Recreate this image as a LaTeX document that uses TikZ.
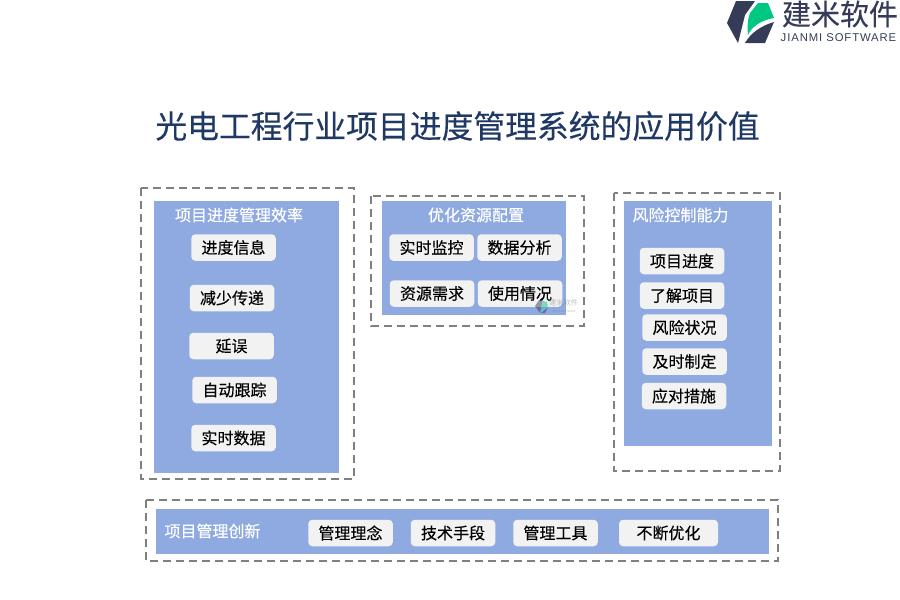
\documentclass[tikz,border=0pt]{standalone}
\usepackage{fontspec}
\setmainfont{Noto Sans CJK SC}
\newfontfamily\heavyfont[FakeBold=0.25]{Noto Sans CJK SC}
\newfontfamily\latinfont[LetterSpace=8]{Liberation Sans}
\usepackage{tikz}
\usetikzlibrary{positioning, calc}
\definecolor{PanelBlue}{RGB}{142, 170, 224}
\definecolor{ChipGray}{RGB}{242, 242, 242}
\definecolor{TitleBlue}{RGB}{31, 56, 100}
\definecolor{LogoDark}{RGB}{52, 60, 88}
\definecolor{LogoGreen}{RGB}{0, 200, 130}
\definecolor{FrameGray}{RGB}{128, 128, 128}
\tikzset{
  framebox/.style={draw=FrameGray, line width=2.2pt, dash pattern=on 8pt off 5pt},
  panelbox/.style={fill=PanelBlue},
  chip/.style={fill=ChipGray, rounded corners=4pt, minimum width=84.5pt, minimum height=26.5pt,
    inner sep=0pt, font=\heavyfont\fontsize{16}{18}\selectfont, text=black},
  paneltitle/.style={text=white, inner sep=0pt, font=\heavyfont\fontsize{16}{18}\selectfont},
  faintmark/.style={opacity=0.5}
}
\begin{document}
\begin{tikzpicture}[x=1pt, y=-1pt]
    \useasboundingbox (0, 0) rectangle (900, 600);

    % Logo
    \fill[LogoDark] (736, 1) -- (755, 1) -- (745, 15) -- (738, 43) -- (727, 23) -- cycle;
    \fill[LogoGreen] (758, 3) -- (768, 3) -- (774, 18) .. controls (762, 20) and (752, 26) .. (748, 35) .. controls (747, 26) and (748, 18) .. (750, 13) -- cycle;
    \fill[LogoDark] (774, 22) -- (765, 43) -- (745, 43) .. controls (750, 34) and (760, 26) .. (774, 22) -- cycle;
    \node[LogoDark, inner sep=0pt, font=\heavyfont\fontsize{29}{31}\selectfont] (logoname) at (840, 14) {建米软件};
    \node[LogoDark, inner sep=0pt, font=\latinfont\fontsize{11.3}{13}\selectfont] (logosub) at (838.5, 37.5) {JIANMI SOFTWARE};

    % Title
    \node[TitleBlue, inner sep=0pt, font=\heavyfont\fontsize{31.8}{36}\selectfont] (title) at (457.5, 126) {光电工程行业项目进度管理系统的应用价值};

    % Dashed frames
    \draw[framebox] (141, 188) rectangle (354, 479);
    \draw[framebox] (371, 196) rectangle (584, 326);
    \draw[framebox] (614, 193) rectangle (780, 471);
    \draw[framebox] (146, 500) rectangle (778, 561);

    % Blue panels
    \fill[panelbox] (154, 201) rectangle (339, 473);
    \fill[panelbox] (382, 201) rectangle (566, 315);
    \fill[panelbox] (624, 201) rectangle (772, 446);
    \fill[panelbox] (156, 509) rectangle (769, 554);

    % Panel titles
    \node[paneltitle] (efficiency) at (239, 215) {项目进度管理效率};
    \node[paneltitle] (resources) at (476, 215) {优化资源配置};
    \node[paneltitle] (risk) at (680.5, 215) {风险控制能力};
    \node[paneltitle] (innovation) at (212.5, 531) {项目管理创新};

    % Left panel
    \node[chip] (info) at (233.5, 247.5) {进度信息};
    \node[chip] (relay) at (232, 298) {减少传递};
    \node[chip] (delay) at (231.5, 346) {延误};
    \node[chip] (tracking) at (234.5, 390) {自动跟踪};
    \node[chip] (realdata) at (233.5, 438) {实时数据};

    % Middle panel
    \node[chip] (monitor) at (431.5, 247.5) {实时监控};
    \node[chip] (analysis) at (519.5, 247.5) {数据分析};
    \node[chip] (demand) at (432, 293.5) {资源需求};
    \node[chip] (usage) at (520, 293.5) {使用情况};

    % Watermark
    \fill[LogoDark, faintmark] (539, 300) -- (543, 300) -- (540, 313) -- (535, 306) -- cycle;
    \fill[LogoGreen, faintmark] (543, 301) -- (547, 302) -- (548, 306) -- (541, 310) -- cycle;
    \fill[LogoDark, faintmark] (548, 307) -- (545, 313) -- (541, 313) -- cycle;
    \node[gray, faintmark, inner sep=0pt, font=\fontsize{7.2}{8}\selectfont] (mark) at (563.5, 303) {建米软件};
    \node[gray, faintmark, inner sep=0pt, font=\fontsize{2.8}{3}\selectfont] (marksub) at (563.5, 311) {JIANMI SOFTWARE};

    % Right panel
    \node[chip] (progress) at (682, 261) {项目进度};
    \node[chip] (learn) at (682, 295.5) {了解项目};
    \node[chip] (status) at (684.5, 327.5) {风险状况};
    \node[chip] (timely) at (684.5, 361.5) {及时制定};
    \node[chip] (measures) at (684, 396) {应对措施};

    % Bottom panel
    \node[chip] (concept) at (350.5, 533) {管理理念};
    \node[chip] (means) at (453, 533) {技术手段};
    \node[chip] (tools) at (555.5, 533) {管理工具};
    \node[chip, minimum width=99pt] (optimize) at (668.5, 533) {不断优化};
\end{tikzpicture}
\end{document}
